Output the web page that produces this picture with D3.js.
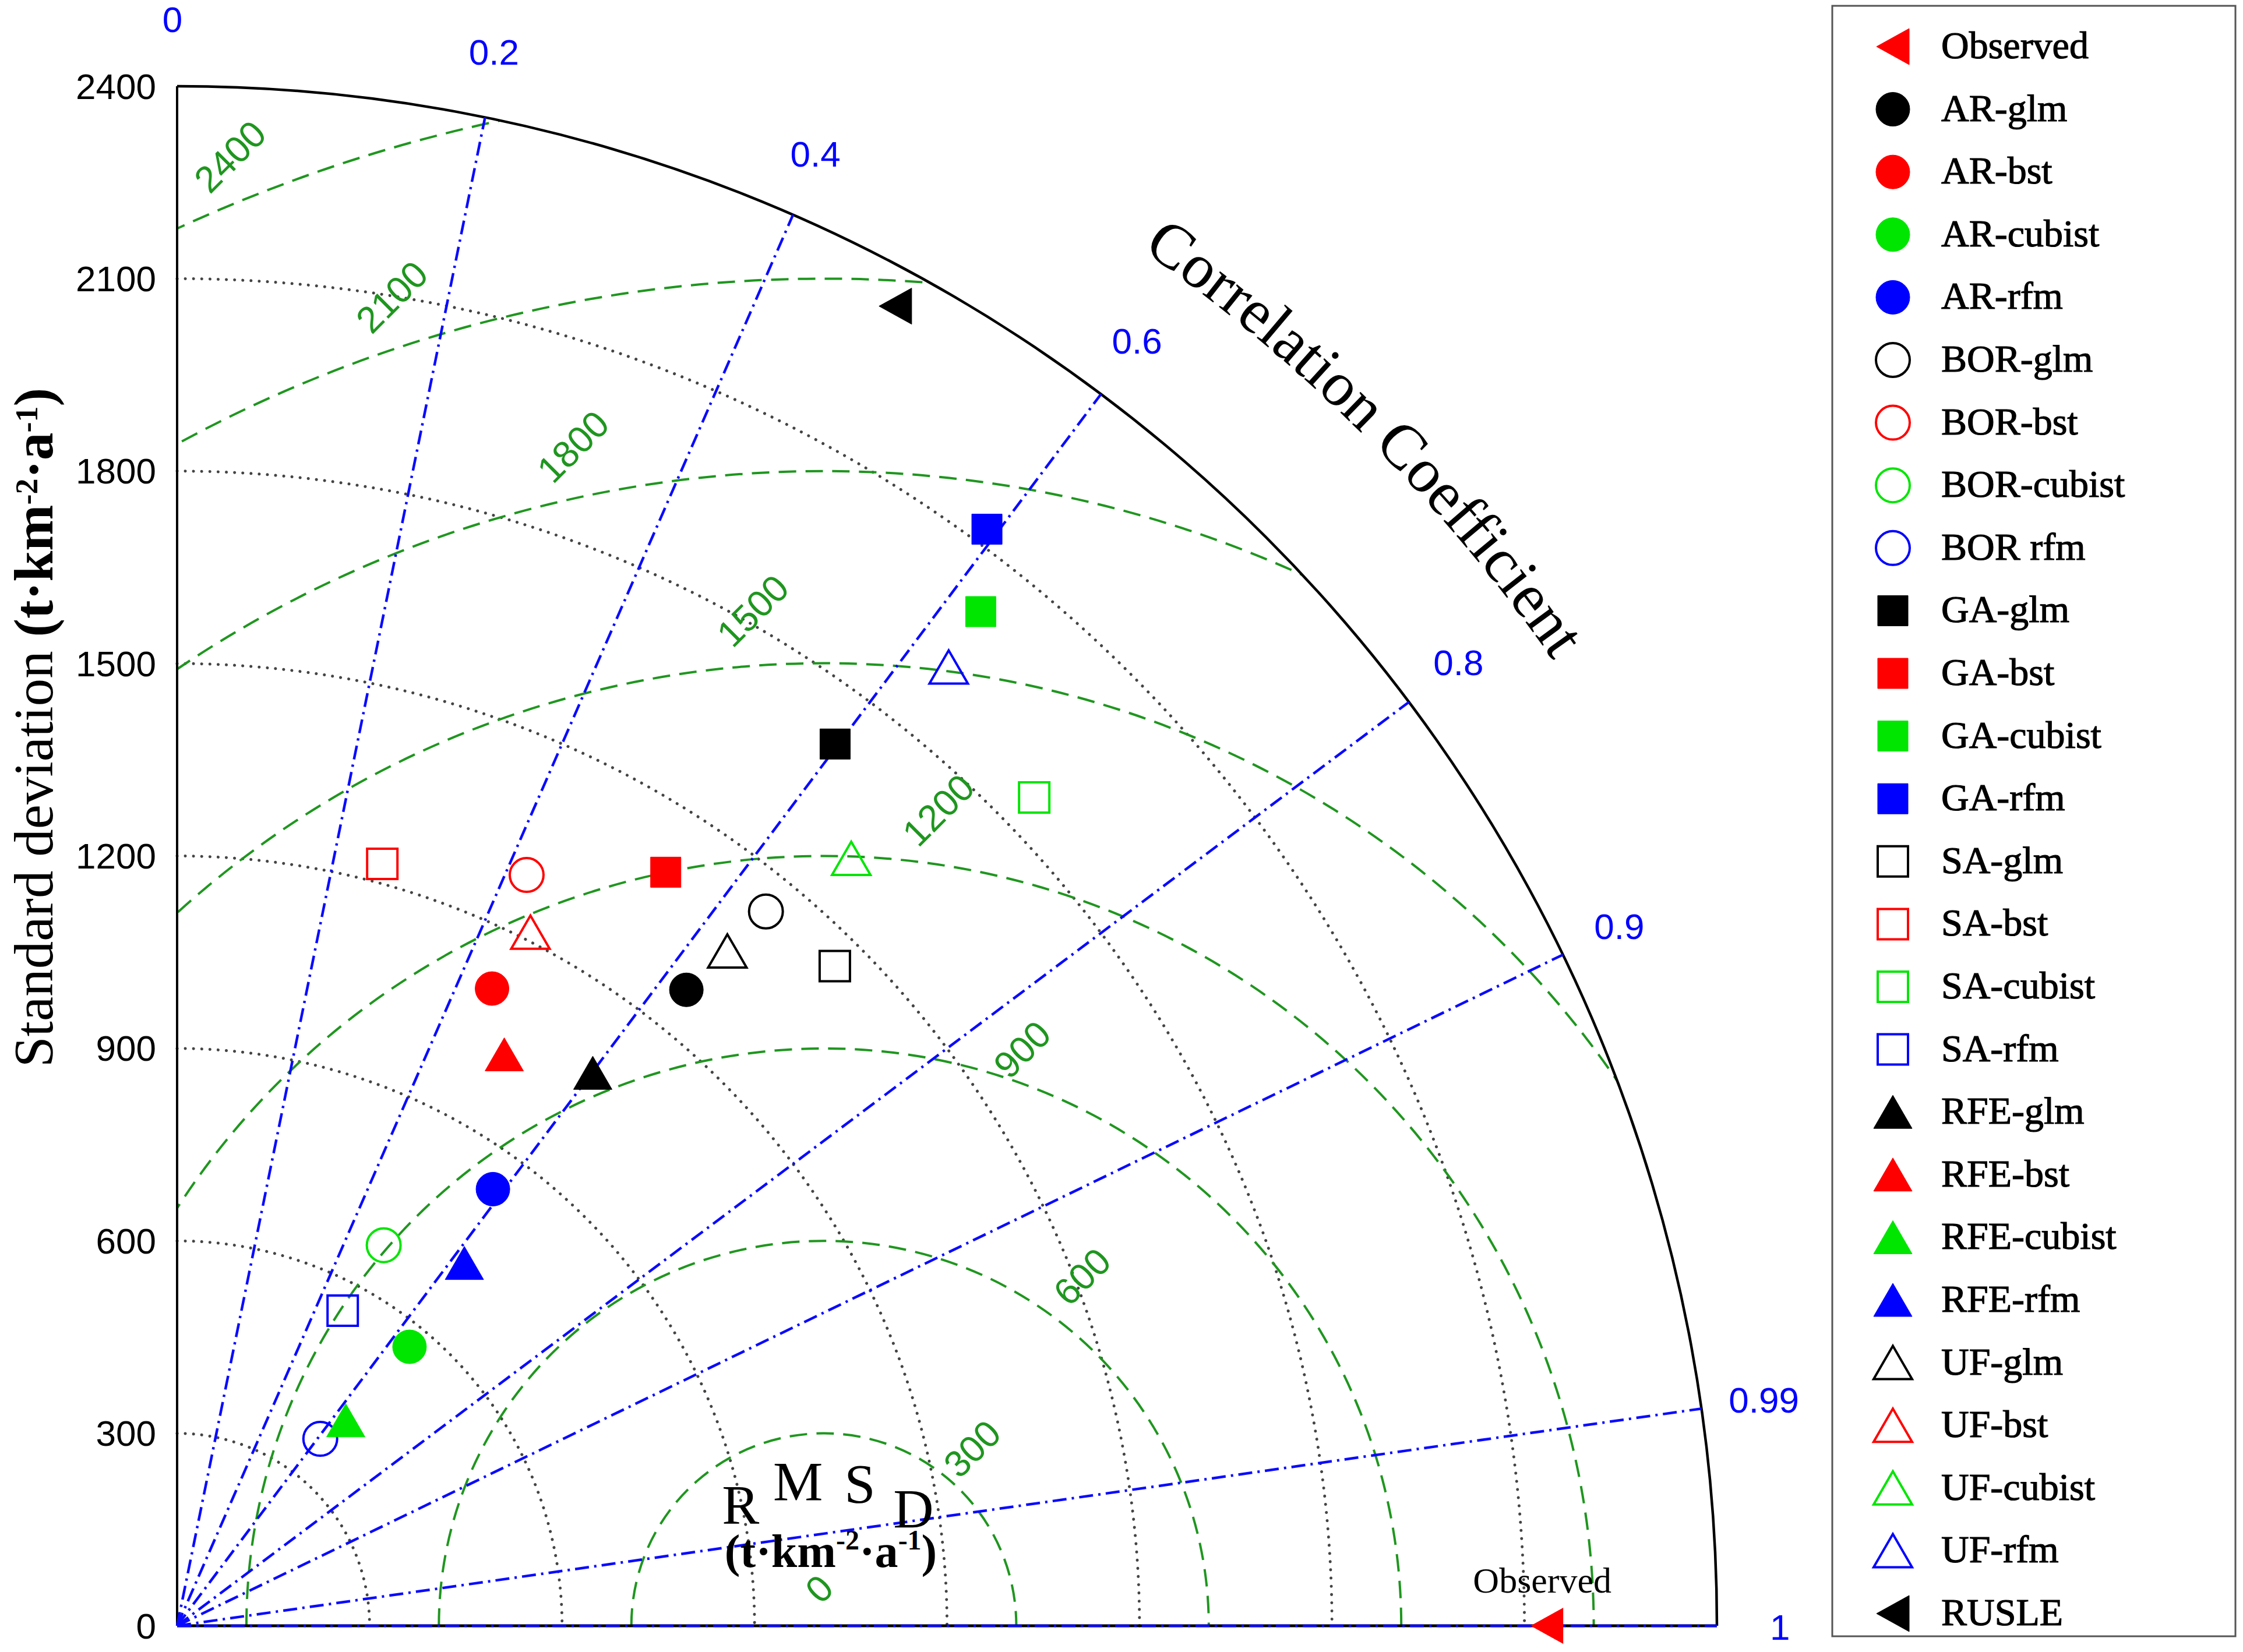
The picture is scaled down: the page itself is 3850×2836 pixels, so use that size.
<!DOCTYPE html>
<html><head><meta charset="utf-8">
<script src="https://cdn.jsdelivr.net/npm/d3@7"></script>
<style>body{margin:0;background:#fff}</style>
</head><body>
<svg id="chart" width="3850" height="2836" xmlns="http://www.w3.org/2000/svg"></svg>
<script>
// ---------------- data ----------------
const stdTicks   = [0, 300, 600, 900, 1200, 1500, 1800, 2100, 2400];
const stdArcs    = [300, 600, 900, 1200, 1500, 1800, 2100];
const corrTicks  = [0, 0.2, 0.4, 0.6, 0.8, 0.9, 0.99, 1];
const corrLines  = [0.2, 0.4, 0.6, 0.8, 0.9, 0.99, 1];
const rmsdLevels = [300, 600, 900, 1200, 1500, 1800, 2100, 2400];
const rmsdLabelAngles  = [50, 53.5, 71, 82, 94, 102, 108, 112]; // degrees, label placement
const rmsdLabelOffsets = [60, 77, 50, 84, 86, 79, 78, 70];     // label distance beyond arc
const rmsdCenterStd = 1008;
const observedStd = 2135;
const stdMax = 2400;

const models = ["AR-glm","AR-bst","AR-cubist","AR-rfm",
  "BOR-glm","BOR-bst","BOR-cubist","BOR rfm",
  "GA-glm","GA-bst","GA-cubist","GA-rfm",
  "SA-glm","SA-bst","SA-cubist","SA-rfm",
  "RFE-glm","RFE-bst","RFE-cubist","RFE-rfm",
  "UF-glm","UF-bst","UF-cubist","UF-rfm","RUSLE"];
const modelStd  = [1270, 1108, 566, 840,
  1443, 1291, 675, 367,
  1715, 1400, 2017, 2125,
  1452, 1230, 1858, 555,
  1078, 1026, 414, 721,
  1357, 1213, 1592, 1918, 2342];
const modelCorr = [0.625, 0.443, 0.640, 0.586,
  0.636, 0.422, 0.477, 0.608,
  0.598, 0.544, 0.621, 0.594,
  0.706, 0.260, 0.719, 0.465,
  0.601, 0.497, 0.635, 0.621,
  0.632, 0.454, 0.660, 0.627, 0.478];
const modelColor = ["#000000","#ff0000","#00e600","#0000ff",
  "#000000","#ff0000","#00e600","#0000ff",
  "#000000","#ff0000","#00e600","#0000ff",
  "#000000","#ff0000","#00e600","#0000ff",
  "#000000","#ff0000","#00e600","#0000ff",
  "#000000","#ff0000","#00e600","#0000ff","#000000"];
const modelShape = ["circle","circle","circle","circle",
  "circle","circle","circle","circle",
  "square","square","square","square",
  "square","square","square","square",
  "triangle","triangle","triangle","triangle",
  "triangle","triangle","triangle","triangle","ltriangle"];
const modelFilled = [true,true,true,true, false,false,false,false,
  true,true,true,true, false,false,false,false,
  true,true,true,true, false,false,false,false, true];

// ---------------- layout ----------------
const svg = d3.select("#chart");
const ox = 304, oy = 2791, R = 2643;
const r = d3.scaleLinear().domain([0, stdMax]).range([0, R]);
const toXY = (std, corr) => {
  const th = Math.acos(Math.max(-1, Math.min(1, corr)));
  return [ox + r(std) * Math.cos(th), oy - r(std) * Math.sin(th)];
};
const SANS = "'Liberation Sans', Arial, sans-serif";
const SERIF = "'Liberation Serif', 'Times New Roman', serif";
const GREEN = "#1f961f";
const BLUE = "#0a0aff";

function markerPath(shape) {
  const p = d3.path();
  if (shape === "circle") { p.moveTo(29, 0); p.arc(0, 0, 29, 0, 2 * Math.PI); }
  else if (shape === "square") { p.rect(-26, -26, 52, 52); }
  else if (shape === "triangle") { p.moveTo(0, -29); p.lineTo(33, 28); p.lineTo(-33, 28); p.closePath(); }
  else if (shape === "ltriangle") { p.moveTo(-28, 0); p.lineTo(28, -31); p.lineTo(28, 31); p.closePath(); }
  return p.toString();
}

// clip: quarter disc
const defs = svg.append("defs");
const qd = d3.path();
qd.moveTo(ox, oy); qd.lineTo(ox, oy - R); qd.arc(ox, oy, R, -Math.PI / 2, 0); qd.closePath();
defs.append("clipPath").attr("id", "quarter").append("path").attr("d", qd.toString());

// std dotted arcs
const gArcs = svg.append("g");
stdArcs.forEach(s => {
  const p = d3.path();
  p.moveTo(ox, oy - r(s)); p.arc(ox, oy, r(s), -Math.PI / 2, 0);
  gArcs.append("path").attr("d", p.toString()).attr("fill", "none")
    .attr("stroke", "#444").attr("stroke-width", 5)
    .attr("stroke-dasharray", "0.1,14").attr("stroke-linecap", "round");
});

// RMSD dashed circles
const gR = svg.append("g").attr("clip-path", "url(#quarter)");
const cx = ox + r(rmsdCenterStd);
rmsdLevels.forEach(l => {
  const p = d3.path();
  p.moveTo(cx - r(l), oy); p.arc(cx, oy, r(l), Math.PI, 2 * Math.PI);
  gR.append("path").attr("d", p.toString()).attr("fill", "none")
    .attr("stroke", GREEN).attr("stroke-width", 4).attr("stroke-dasharray", "30,16");
});

// axes
svg.append("line").attr("x1", ox).attr("y1", oy).attr("x2", ox).attr("y2", oy - R)
  .attr("stroke", "#000").attr("stroke-width", 4);
svg.append("line").attr("x1", ox).attr("y1", oy).attr("x2", ox + R).attr("y2", oy)
  .attr("stroke", "#000").attr("stroke-width", 5);
const outer = d3.path();
outer.moveTo(ox, oy - R); outer.arc(ox, oy, R, -Math.PI / 2, 0);
svg.append("path").attr("d", outer.toString()).attr("fill", "none")
  .attr("stroke", "#000").attr("stroke-width", 4.5);

// correlation lines
corrLines.forEach(c => {
  const [x2, y2] = toXY(stdMax, c);
  svg.append("line").attr("x1", ox).attr("y1", oy).attr("x2", x2).attr("y2", y2)
    .attr("stroke", BLUE).attr("stroke-width", 4.5).attr("stroke-dasharray", "24,9,4,9");
});

// y tick labels
svg.append("g").selectAll("text").data(stdTicks).join("text")
  .attr("x", 268).attr("y", d => oy - r(d)).attr("text-anchor", "end")
  .attr("dominant-baseline", "central").attr("font-family", SANS)
  .attr("font-size", 62).attr("fill", "#000").text(d => d);

// correlation tick labels
svg.append("g").selectAll("text").data(corrTicks).join("text")
  .attr("x", d => toXY(stdMax * 1.044, d)[0] - 8).attr("y", d => toXY(stdMax * 1.044, d)[1] + 2)
  .attr("text-anchor", "middle").attr("dominant-baseline", "central")
  .attr("font-family", SANS).attr("font-size", 62).attr("fill", "#0000ff").text(d => d);

// RMSD labels
rmsdLevels.forEach((l, i) => {
  const a = rmsdLabelAngles[i] * Math.PI / 180;
  const rr = r(l + rmsdLabelOffsets[i]);
  const x = cx + rr * Math.cos(a), y = oy - rr * Math.sin(a);
  svg.append("text").attr("transform", `translate(${x},${y}) rotate(-45)`)
    .attr("text-anchor", "middle").attr("dominant-baseline", "central")
    .attr("font-family", SANS).attr("font-size", 64).attr("fill", GREEN).text(l);
});
{
  const a = 97 * Math.PI / 180, rr = r(58);
  svg.append("text").attr("transform", `translate(${cx + rr * Math.cos(a)},${oy - rr * Math.sin(a)}) rotate(-45)`)
    .attr("text-anchor", "middle").attr("dominant-baseline", "central")
    .attr("font-family", SANS).attr("font-size", 64).attr("fill", GREEN).text("0");
}

// RMSD title letters
const rmsdLetters = ["R", "M", "S", "D"];
const rmsdLetterAngles = [124, 100, 76, 53];
rmsdLetters.forEach((t, i) => {
  const a = rmsdLetterAngles[i] * Math.PI / 180, rr = r(232);
  svg.append("text").attr("x", cx + rr * Math.cos(a)).attr("y", oy - rr * Math.sin(a) + 4)
    .attr("text-anchor", "middle").attr("dominant-baseline", "central")
    .attr("font-family", SERIF).attr("font-size", 96).attr("fill", "#000").text(t);
});
{
  const t = svg.append("text").attr("x", cx + 12).attr("y", 2690)
    .attr("text-anchor", "middle").attr("font-family", SERIF).attr("font-size", 80)
    .attr("font-weight", "bold").attr("fill", "#000");
  t.append("tspan").text("(t·km");
  t.append("tspan").attr("font-size", 48).attr("dy", -30).text("-2");
  t.append("tspan").attr("dy", 30).text("·a");
  t.append("tspan").attr("font-size", 48).attr("dy", -30).text("-1");
  t.append("tspan").attr("dy", 30).text(")");
}

// Correlation Coefficient title on arc
{
  const rad = 2885, a0 = -80 * Math.PI / 180, a1 = -10 * Math.PI / 180;
  const p = d3.path();
  p.moveTo(ox + rad * Math.cos(a0), oy + rad * Math.sin(a0));
  p.arc(ox, oy, rad, a0, a1);
  defs.append("path").attr("id", "ccpath").attr("d", p.toString());
  svg.append("text").attr("font-family", SERIF).attr("font-size", 108).attr("fill", "#000")
    .append("textPath").attr("href", "#ccpath").attr("startOffset", "50%")
    .attr("text-anchor", "middle").text("Correlation Coefficient");
}

// Y axis title
{
  const t = svg.append("text").attr("transform", "translate(90,1249) rotate(-90)")
    .attr("text-anchor", "middle").attr("font-family", SERIF).attr("font-size", 95).attr("fill", "#000");
  t.append("tspan").text("Standard deviation ");
  t.append("tspan").attr("font-weight", "bold").text("(t·km");
  t.append("tspan").attr("font-weight", "bold").attr("font-size", 54).attr("dy", -26).text("-2");
  t.append("tspan").attr("font-weight", "bold").attr("dy", 26).text("·a");
  t.append("tspan").attr("font-weight", "bold").attr("font-size", 54).attr("dy", -26).text("-1");
  t.append("tspan").attr("font-weight", "bold").attr("dy", 26).text(")");
}

// Observed marker + label
{
  const [x, y] = toXY(observedStd, 1);
  svg.append("path").attr("d", markerPath("ltriangle")).attr("transform", `translate(${x},${y})`)
    .attr("fill", "#ff0000");
  svg.append("text").attr("x", x - 8).attr("y", y - 57).attr("text-anchor", "middle")
    .attr("font-family", SERIF).attr("font-size", 62).attr("fill", "#000").text("Observed");
}

// model points
const pts = models.map((m, i) => ({ name: m, std: modelStd[i], corr: modelCorr[i],
  color: modelColor[i], shape: modelShape[i], filled: modelFilled[i] }));
svg.append("g").selectAll("path").data(pts).join("path")
  .attr("d", d => markerPath(d.shape))
  .attr("transform", d => { const [x, y] = toXY(d.std, d.corr); return `translate(${x},${y})`; })
  .attr("fill", d => d.filled ? d.color : "none")
  .attr("stroke", d => d.color).attr("stroke-width", d => d.filled ? 1 : 4);

// legend
svg.append("rect").attr("x", 3145).attr("y", 10).attr("width", 692).attr("height", 2799)
  .attr("fill", "#fff").attr("stroke", "#555").attr("stroke-width", 3);
const legItems = [{ name: "Observed", color: "#ff0000", shape: "ltriangle", filled: true }].concat(pts);
const lg = svg.append("g").selectAll("g").data(legItems).join("g")
  .attr("transform", (d, i) => `translate(0,${80 + 107.6 * i})`);
lg.append("path").attr("d", d => markerPath(d.shape)).attr("transform", "translate(3249,0)")
  .attr("fill", d => d.filled ? d.color : "none")
  .attr("stroke", d => d.color).attr("stroke-width", d => d.filled ? 1 : 4);
lg.append("text").attr("x", 3332).attr("y", 20).attr("font-family", SERIF)
  .attr("font-size", 66).attr("fill", "#000").attr("stroke", "#000").attr("stroke-width", 1.2)
  .text(d => d.name);
</script>
</body></html>
